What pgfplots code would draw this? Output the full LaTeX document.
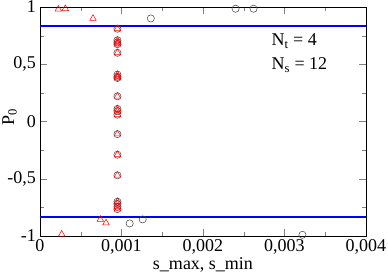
\documentclass[border=0pt]{standalone}
\usepackage{fontspec}
\setmainfont{Liberation Serif}
\usepackage{pgfplots}
\pgfplotsset{compat=1.18}
\definecolor{lineblue}{RGB}{0,0,255}
\begin{document}
\fontsize{18}{21}\selectfont
\begin{tikzpicture}
\begin{axis}[
  width=326pt, height=229pt, scale only axis,
  xmin=0, xmax=0.004, ymin=-1, ymax=1,
  xtick distance=0.001, ytick distance=0.5,
  minor x tick num=1, minor y tick num=1,
  tick align=inside,
  major tick length=7pt, minor tick length=4pt,
  scaled x ticks=false,
  /pgf/number format/assume math mode=true,
  xticklabel style={inner sep=0pt, yshift=-3.5pt, /pgf/number format/.cd, fixed, precision=3, use comma},
  yticklabel style={inner ysep=0pt, inner xsep=4pt, /pgf/number format/.cd, fixed, precision=2, use comma},
  xlabel={s\_max, s\_min},
  ylabel={P\textsubscript{0}},
  xlabel style={at={(axis description cs:0.5,-0.147)}, anchor=base, inner sep=0pt},
  ylabel style={at={(axis description cs:-0.0706,0.52)}, anchor=south, inner sep=0pt},
  clip=false,
]
\addplot[only marks, mark=o, mark size=3.6pt, black!75, mark options={line width=0.5pt}] coordinates {
(0.00136,0.90) (0.0024,0.985) (0.00262,0.985)
(0.0011,-0.89) (0.00126,-0.855) (0.00322,-0.99)
(0.00095,0.81) (0.00095,0.71) (0.00095,0.69) (0.00095,0.675) (0.00095,0.60)
(0.00095,0.41) (0.00095,0.39) (0.00095,0.38) (0.00095,0.22) (0.00095,0.11)
(0.00095,0.09) (0.00095,0.06) (0.00095,-0.11) (0.00095,-0.29) (0.00095,-0.47)
(0.00095,-0.70) (0.00095,-0.72) (0.00095,-0.745) (0.00095,-0.765)
};
\addplot[only marks, mark=triangle, mark size=3.8pt, red, mark options={line width=0.5pt}] coordinates {
(0.000225,0.98) (0.00031,0.985) (0.00065,0.90)
(0.000266,-0.985) (0.00074,-0.855) (0.00081,-0.886)
(0.00095,0.81) (0.00095,0.71) (0.00095,0.69) (0.00095,0.675) (0.00095,0.60)
(0.00095,0.41) (0.00095,0.39) (0.00095,0.38) (0.00095,0.22) (0.00095,0.11)
(0.00095,0.09) (0.00095,0.06) (0.00095,-0.11) (0.00095,-0.29) (0.00095,-0.47)
(0.00095,-0.70) (0.00095,-0.72) (0.00095,-0.745) (0.00095,-0.765)
};
\addplot[color=lineblue, line width=2pt, no markers, forget plot] coordinates {(0,0.83) (0.004,0.83)};
\addplot[color=lineblue, line width=2pt, no markers, forget plot] coordinates {(0,-0.83) (0.004,-0.83)};
\node[anchor=west, inner sep=0pt] at (axis cs:0.00284,0.70) {N\textsubscript{t} = 4};
\node[anchor=west, inner sep=0pt] at (axis cs:0.00284,0.495) {N\textsubscript{s} = 12};
\end{axis}
\pgfresetboundingbox
\path[use as bounding box] ([shift={(-40pt,-37pt)}]current axis.south west) rectangle ++(388pt,273pt);
\end{tikzpicture}
\end{document}
